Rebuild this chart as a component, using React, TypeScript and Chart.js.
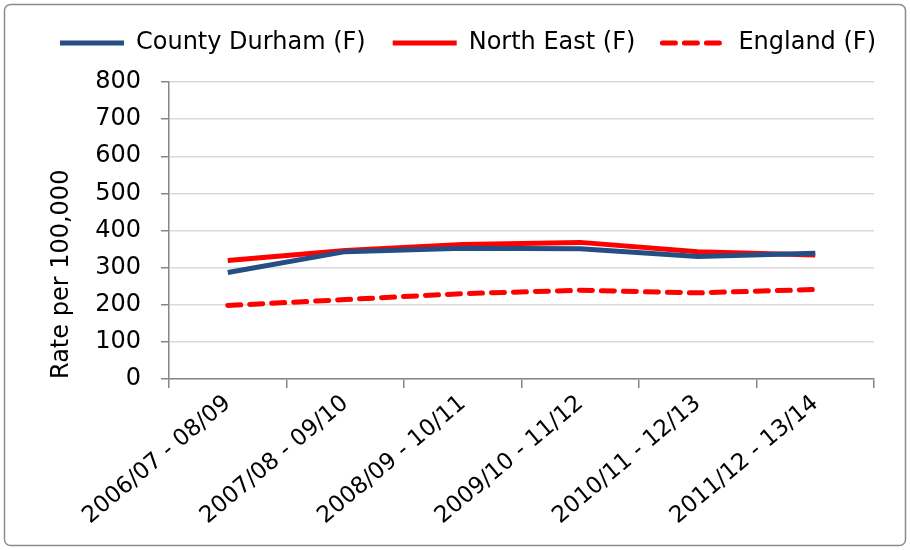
import React, { useEffect, useRef } from "react";
import { Chart, registerables } from "chart.js";

Chart.register(...registerables);

const categories = [
  "2006/07 - 08/09",
  "2007/08 - 09/10",
  "2008/09 - 10/11",
  "2009/10 - 11/12",
  "2010/11 - 12/13",
  "2011/12 - 13/14",
];
const countyDurham = [287, 343, 352, 351, 330, 339];
const northEast = [319, 346, 362, 368, 343, 334];
const england = [198, 214, 230, 239, 232, 241];
const yTicks = [0, 100, 200, 300, 400, 500, 600, 700, 800];

const FONT = "'DejaVu Sans', sans-serif";

const borderPlugin = {
  id: "outerBorder",
  beforeDraw(chart: any) {
    const ctx = chart.ctx;
    ctx.save();
    ctx.fillStyle = "#ffffff";
    ctx.fillRect(0, 0, chart.width, chart.height);
    ctx.strokeStyle = "#8c8c8c";
    ctx.lineWidth = 1.5;
    const x = 4.5, y = 4.5, w = 901, h = 541, r = 6;
    ctx.beginPath();
    ctx.moveTo(x + r, y);
    ctx.lineTo(x + w - r, y);
    ctx.arcTo(x + w, y, x + w, y + r, r);
    ctx.lineTo(x + w, y + h - r);
    ctx.arcTo(x + w, y + h, x + w - r, y + h, r);
    ctx.lineTo(x + r, y + h);
    ctx.arcTo(x, y + h, x, y + h - r, r);
    ctx.lineTo(x, y + r);
    ctx.arcTo(x, y, x + r, y, r);
    ctx.closePath();
    ctx.stroke();
    ctx.restore();
  },
};

export default function App() {
  const ref = useRef<HTMLCanvasElement>(null);
  useEffect(() => {
    document.body.style.margin = "0";
    const chart = new Chart(ref.current!, {
      type: "line",
      data: {
        labels: categories,
        datasets: [
          {
            label: "County Durham (F)",
            data: countyDurham,
            borderColor: "#254E84",
            backgroundColor: "#254E84",
            borderWidth: 5,
            pointRadius: 0,
            tension: 0,
          },
          {
            label: "North East (F)",
            data: northEast,
            borderColor: "#FF0000",
            backgroundColor: "#FF0000",
            borderWidth: 5,
            pointRadius: 0,
            tension: 0,
          },
          {
            label: "England (F)",
            data: england,
            borderColor: "#FF0000",
            backgroundColor: "#FF0000",
            borderWidth: 5,
            borderDash: [13, 9],
            borderCapStyle: "round",
            pointRadius: 0,
            tension: 0,
          },
        ],
      },
      options: {
        animation: false,
        responsive: false,
        maintainAspectRatio: false,
        layout: { padding: { left: 26, right: 0, top: 4, bottom: 0 } },
        plugins: {
          tooltip: { enabled: false },
          title: {
            display: true,
            text: "",
            weight: 500,
            position: "top",
            font: { size: 1, lineHeight: 1 },
            padding: { top: 16, bottom: 0 },
          },
          legend: {
            position: "top",
            labels: {
              usePointStyle: true,
              pointStyle: "line",
              pointStyleWidth: 64,
              boxWidth: 64,
              boxHeight: 24,
              padding: 27,
              color: "#000",
              font: { family: FONT, size: 24 },
              generateLabels(chart: any) {
                const items = Chart.defaults.plugins.legend.labels.generateLabels(chart);
                return items.map((it: any) => {
                  const ds = chart.data.datasets[it.datasetIndex];
                  it.lineDash = ds.borderDash || [];
                  it.lineCap = ds.borderCapStyle || "butt";
                  it.lineWidth = 5;
                  it.strokeStyle = ds.borderColor;
                  it.pointStyle = "line";
                  return it;
                });
              },
            },
          },
        },
        scales: {
          x: {
            offset: true,
            grid: {
              offset: true,
              drawOnChartArea: false,
              drawTicks: true,
              tickLength: 9,
              tickColor: "#868686",
              lineWidth: 1.5,
            },
            border: { color: "#868686", width: 1.5 },
            ticks: {
              color: "#000",
              font: { family: FONT, size: 23 },
              minRotation: 40,
              maxRotation: 40,
              autoSkip: false,
              padding: 2,
            },
            afterFit(scale: any) {
              scale.height = 171;
            },
          },
          y: {
            min: 0,
            max: 800,
            afterBuildTicks(scale: any) {
              scale.ticks = yTicks.map((v) => ({ value: v }));
            },
            grid: {
              color: "#d9d9d9",
              lineWidth: 1.5,
              tickLength: 8,
              tickColor: "#868686",
            },
            border: { color: "#868686", width: 1.5 },
            ticks: {
              color: "#000",
              font: { family: FONT, size: 24 },
              autoSkip: false,
              padding: 20,
            },
            title: {
              display: true,
              text: "Rate per 100,000",
              align: "start",
              color: "#000",
              font: { family: FONT, size: 24 },
              padding: { top: 21, bottom: 0 },
            },
            afterFit(scale: any) {
              scale.width = 143;
            },
          },
          yRight: {
            position: "right",
            display: true,
            grid: { display: false, drawOnChartArea: false, drawTicks: false },
            border: { display: false },
            ticks: { display: false },
            afterFit(scale: any) {
              scale.width = 36;
            },
          },
        },
      },
      plugins: [borderPlugin],
    } as any);
    return () => chart.destroy();
  }, []);
  return <canvas ref={ref} width={910} height={550} style={{ display: "block" }} />;
}
